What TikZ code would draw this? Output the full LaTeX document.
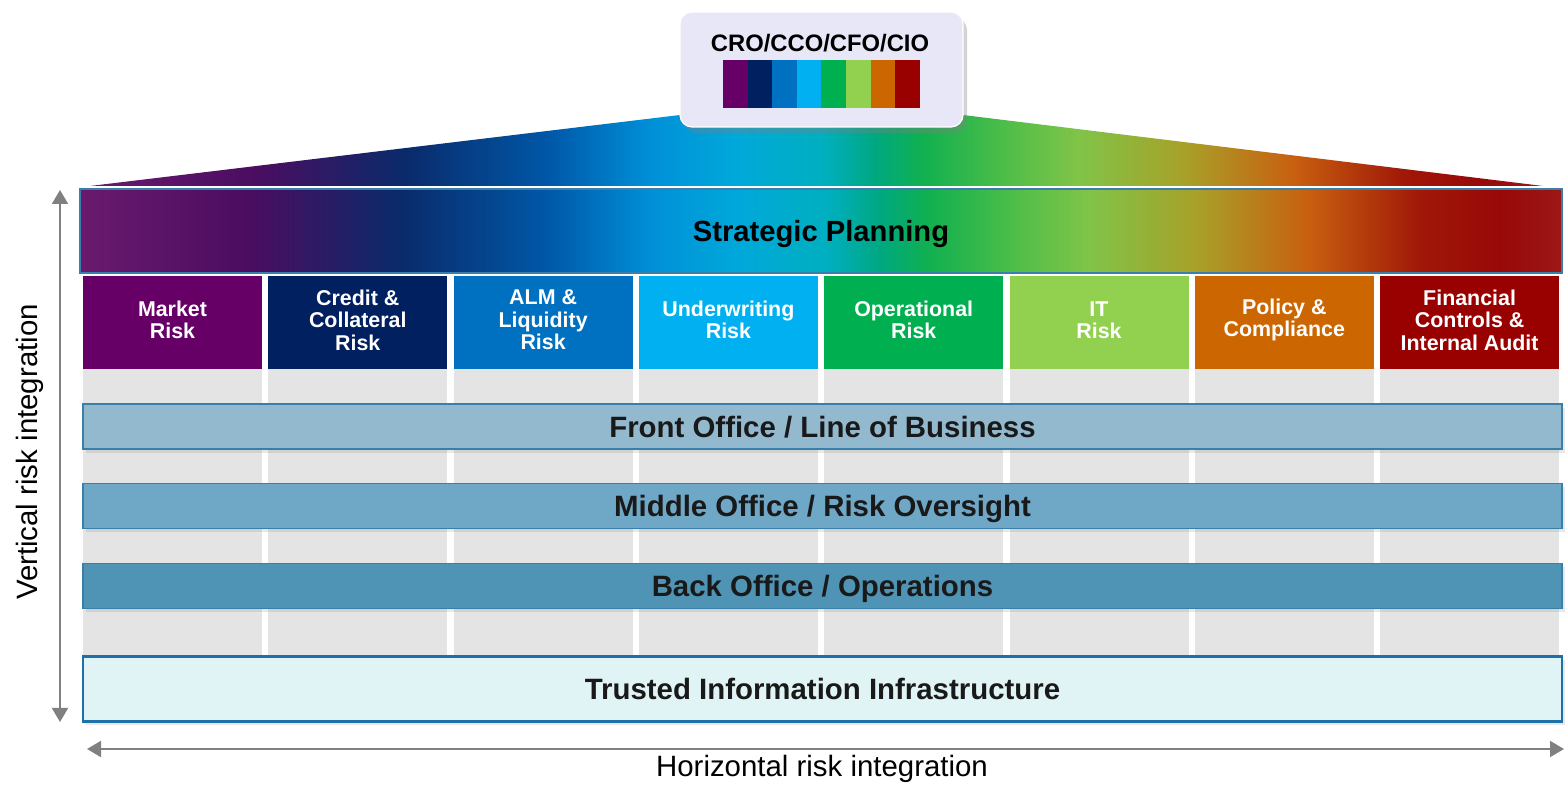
\documentclass[tikz,border=0pt]{standalone}
\usepackage{fontspec}
\setmainfont{Liberation Sans}
\usetikzlibrary{shadows,arrows.meta}
\definecolor{cMarket}{HTML}{660066}
\definecolor{cCredit}{HTML}{002060}
\definecolor{cALM}{HTML}{0070C0}
\definecolor{cUnder}{HTML}{00B0F0}
\definecolor{cOper}{HTML}{00B050}
\definecolor{cIT}{HTML}{92D050}
\definecolor{cPolicy}{HTML}{CC6600}
\definecolor{cFin}{HTML}{990000}
\definecolor{colgrey}{HTML}{E4E4E4}
\definecolor{frontc}{HTML}{93B9CF}
\definecolor{middlec}{HTML}{6FA7C7}
\definecolor{backc}{HTML}{4F94B5}
\definecolor{trustc}{HTML}{E0F4F5}
\definecolor{barborder}{HTML}{3A7FAA}
\definecolor{trustborder}{HTML}{1F70A8}
\definecolor{arrowgrey}{HTML}{808080}
\definecolor{crofill}{HTML}{E7E7F7}
\definecolor{s1}{HTML}{6A1A6E}
\definecolor{s2}{HTML}{4A0D60}
\definecolor{s3}{HTML}{0A2A6A}
\definecolor{s4}{HTML}{0058A8}
\definecolor{s5}{HTML}{0090D8}
\definecolor{s6}{HTML}{00A8DA}
\definecolor{s7}{HTML}{00AFC0}
\definecolor{s8}{HTML}{00A880}
\definecolor{s9}{HTML}{10B050}
\definecolor{s10}{HTML}{50BE48}
\definecolor{s11}{HTML}{80C448}
\definecolor{s12}{HTML}{A8A028}
\definecolor{s13}{HTML}{C86010}
\definecolor{s14}{HTML}{A01808}
\definecolor{s15}{HTML}{980808}
\definecolor{s16}{HTML}{9C1818}
\pgfdeclarehorizontalshading{spectrum}{100bp}{%
color(0bp)=(s1); color(25bp)=(s1); color(30.74bp)=(s2); color(35.80bp)=(s3);
color(40.8bp)=(s4); color(44.3bp)=(s5); color(47.2bp)=(s6); color(50.2bp)=(s7);
color(52.0bp)=(s8); color(53.6bp)=(s9); color(56.6bp)=(s10); color(59.0bp)=(s11);
color(62.7bp)=(s12); color(66.4bp)=(s13); color(70.2bp)=(s14); color(72.9bp)=(s15);
color(75bp)=(s16); color(100bp)=(s16)}
\tikzset{
  catbox/.style={minimum width=89.5pt, minimum height=46.5pt, inner sep=0pt, outer sep=0pt,
    text=white, align=center, font=\bfseries\fontsize{10.7}{11.2}\selectfont},
  layerbar/.style={minimum width=739.5pt, minimum height=22.5pt, inner sep=0pt, outer sep=0pt,
    text height=10.6pt, text depth=0pt,
    draw=barborder, line width=0.8pt, font=\bfseries\fontsize{14.7}{16}\selectfont, text=black!90,
    drop shadow={opacity=0.18, shadow xshift=1.5pt, shadow yshift=-2pt}},
  axisarrow/.style={draw=arrowgrey, line width=1pt,
    {Triangle[width=8pt,length=7pt]}-{Triangle[width=8pt,length=7pt]}},
  axislabel/.style={font=\fontsize{14.7}{16}\selectfont, text=black}
}
\begin{document}
\begin{tikzpicture}[x=0.5pt,y=-0.5pt]
\useasboundingbox (0,0) rectangle (1565,785);
% grey columns
\foreach \i in {0,...,7}{
  \fill[colgrey] ({83+185.3*\i},369) rectangle ({83+185.3*\i+179},656);
}
% gradient fan
\shade[shading=spectrum] (90,186) -- (680,115) -- (963,115) -- (1543,186) -- cycle;
% CRO box
\node[draw=white, line width=0.6pt, fill=crofill, rounded corners=6pt, minimum width=141.5pt,
  minimum height=57.5pt, inner sep=0pt,
  drop shadow={opacity=0.35, shadow xshift=2pt, shadow yshift=-3pt}] (cro) at (821.5,69.5) {};
\node[font=\bfseries\fontsize{11.9}{13}\selectfont, text=black] (crotext) at (820,43) {CRO/CCO/CFO/CIO};
\foreach \c [count=\k from 0] in {cMarket,cCredit,cALM,cUnder,cOper,cIT,cPolicy,cFin}{
  \fill[\c] ({723+24.6*\k},60) rectangle ({723+24.6*(\k+1)},108);
}
% strategic planning
\node[shading=spectrum, draw=barborder, line width=1pt, minimum width=741pt, minimum height=42pt,
  inner sep=0pt, outer sep=0pt, text height=10.5pt, text depth=0pt,
  font=\bfseries\fontsize{14.6}{16}\selectfont, text=black] (strat) at (821,231) {Strategic Planning};
% category boxes
\foreach \nm/\col/\txt [count=\k from 0] in {
  market/cMarket/{Market\\Risk},
  credit/cCredit/{Credit \&\\Collateral\\Risk},
  alm/cALM/{ALM \&\\Liquidity\\Risk},
  under/cUnder/{Underwriting\\Risk},
  oper/cOper/{Operational\\Risk},
  it/cIT/{IT\\Risk},
  policy/cPolicy/{Policy \&\\Compliance},
  fin/cFin/{Financial\\Controls \&\\Internal Audit}}{
  \node[catbox, fill=\col] (\nm) at ({172.5+185.3*\k},322.5) {};
  \node[catbox, minimum height=0pt, minimum width=0pt] (\nm text) at ({172.5+185.3*\k},320) {\txt};
}
% layer bars
\node[layerbar, fill=frontc] (front) at (822.5,426.5) {Front Office / Line of Business};
\node[layerbar, fill=middlec] (middle) at (822.5,506) {Middle Office / Risk Oversight};
\node[layerbar, fill=backc] (back) at (822.5,586) {Back Office / Operations};
\node[layerbar, fill=trustc, draw=trustborder, line width=1.3pt, minimum height=32.5pt] (trust) at (822.5,689) {Trusted Information Infrastructure};
% axes
\coordinate (vtop) at (60,190);
\coordinate (vbot) at (60,722);
\coordinate (hleft) at (87,749);
\coordinate (hright) at (1564,749);
\draw[axisarrow] (vtop) -- (vbot);
\draw[axisarrow] (hleft) -- (hright);
\node[axislabel, rotate=90] (vlabel) at (30,452) {Vertical risk integration};
\node[axislabel] (hlabel) at (822,769) {Horizontal risk integration};
\end{tikzpicture}
\end{document}
